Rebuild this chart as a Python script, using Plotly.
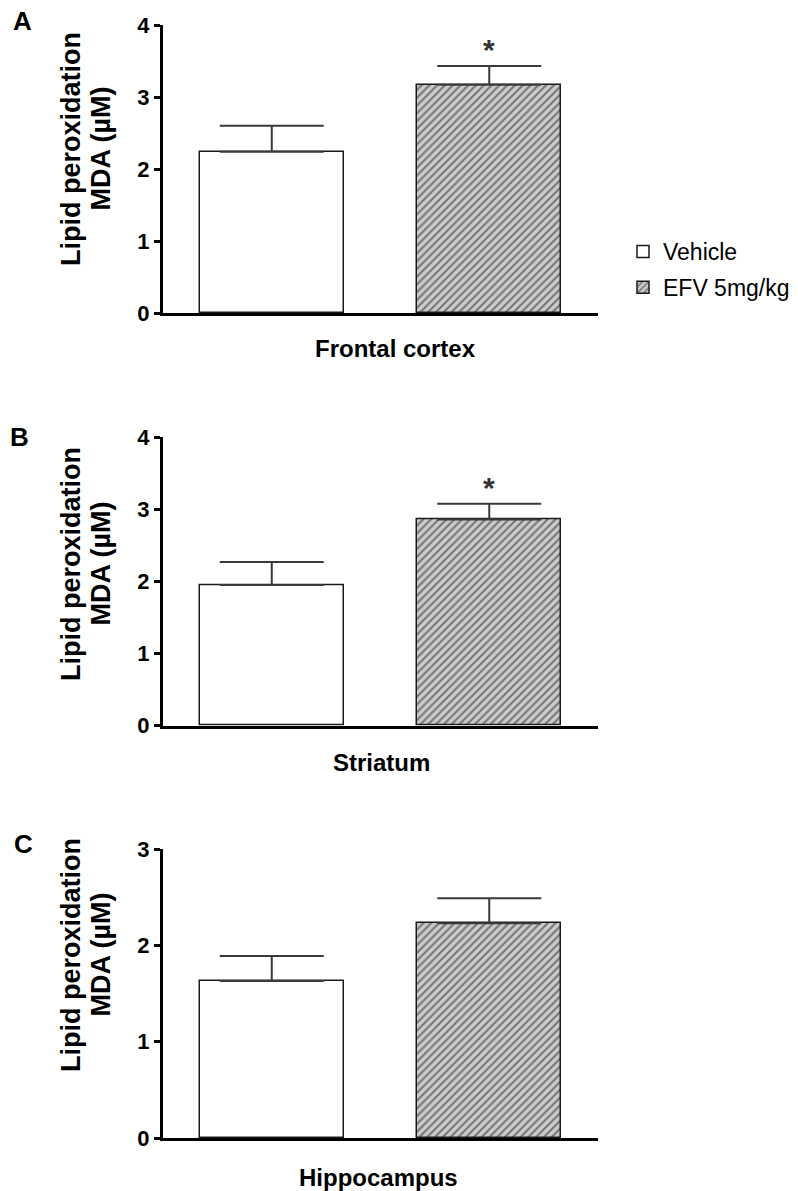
import plotly.graph_objects as go

# ---------------- data ----------------
regions = ["Frontal cortex", "Striatum", "Hippocampus"]
panel_letters = ["A", "B", "C"]
groups = ["Vehicle", "EFV 5mg/kg"]
vehicle_mean = [2.24, 1.95, 1.63]
vehicle_sem = [0.36, 0.32, 0.26]
efv_mean = [3.17, 2.86, 2.23]
efv_sem = [0.26, 0.22, 0.26]
y_max = [4, 4, 3]
y_ticks = [[0, 1, 2, 3, 4], [0, 1, 2, 3, 4], [0, 1, 2, 3]]
significant = [True, True, False]
y_title_lines = ["Lipid peroxidation", "MDA (µM)"]

# ---------------- layout helpers (pixel -> paper) ----------------
W, H = 798, 1191
def px(x):
    return x / W
def py(y):
    return 1 - y / H

x_dom = [px(163), px(598)]
y_doms = [[py(313), py(25)], [py(725.7), py(437.3)], [py(1138), py(849)]]
xtitle_pos = [(395, 348), (381, 762), (378, 1177)]
letter_pos = [(22, 21), (19, 437), (23, 844)]
ytitle_y = [149, 564, 955]
ytitle_x = [71, 100.5]

FONT = "Arial, Liberation Sans, sans-serif"

fig = go.Figure()
annotations = []

for i in range(3):
    xa = "x" if i == 0 else f"x{i+1}"
    ya = "y" if i == 0 else f"y{i+1}"
    fig.add_trace(go.Bar(
        x=[groups[0]], y=[vehicle_mean[i]], width=0.661,
        name=groups[0], legendgroup="g0", showlegend=(i == 0),
        marker=dict(color="white", line=dict(color="#1a1a1a", width=1.5)),
        error_y=dict(type="data", symmetric=False, array=[vehicle_sem[i]], arrayminus=[0],
                     color="#3a3a3a", thickness=2, width=52),
        xaxis=xa, yaxis=ya,
    ))
    fig.add_trace(go.Bar(
        x=[groups[1]], y=[efv_mean[i]], width=0.661,
        name=groups[1], legendgroup="g1", showlegend=(i == 0),
        marker=dict(color="#cccccc", line=dict(color="#1a1a1a", width=1.5),
                    pattern=dict(shape="/", size=5.5, solidity=0.38, fgcolor="#1e1e1e",
                                 bgcolor="#cccccc", fillmode="overlay")),
        error_y=dict(type="data", symmetric=False, array=[efv_sem[i]], arrayminus=[0],
                     color="#3a3a3a", thickness=2, width=52),
        xaxis=xa, yaxis=ya,
    ))

    xkey = "xaxis" if i == 0 else f"xaxis{i+1}"
    ykey = "yaxis" if i == 0 else f"yaxis{i+1}"
    fig.layout[xkey] = dict(
        domain=x_dom, anchor=ya, type="category", categoryorder="array",
        categoryarray=groups, range=[-0.5, 1.5], showticklabels=False, ticks="",
        showline=True, linecolor="black", linewidth=3, showgrid=False, zeroline=False,
        fixedrange=True, automargin=False,
    )
    fig.layout[ykey] = dict(
        domain=y_doms[i], anchor=xa, range=[0, y_max[i]], tickvals=y_ticks[i],
        ticks="outside", ticklen=6, tickwidth=2.5, tickcolor="black",
        tickfont=dict(family=FONT, size=22, color="black", weight="bold"),
        showline=True, linecolor="black", linewidth=3, showgrid=False, zeroline=False,
        fixedrange=True, automargin=False,
    )

    # region label
    annotations.append(dict(
        x=px(xtitle_pos[i][0]), y=py(xtitle_pos[i][1]), xref="paper", yref="paper",
        text=regions[i], showarrow=False, xanchor="center", yanchor="middle",
        font=dict(family=FONT, size=24, color="black", weight="bold"),
    ))
    # panel letter
    annotations.append(dict(
        x=px(letter_pos[i][0]), y=py(letter_pos[i][1]), xref="paper", yref="paper",
        text=panel_letters[i], showarrow=False, xanchor="center", yanchor="middle",
        font=dict(family=FONT, size=26, color="black", weight="bold"),
    ))
    # y title lines
    for k, line in enumerate(y_title_lines):
        annotations.append(dict(
            x=px(ytitle_x[k]), y=py(ytitle_y[i]), xref="paper", yref="paper",
            text=line, textangle=-90, showarrow=False, xanchor="center", yanchor="middle",
            font=dict(family=FONT, size=27, color="black", weight="bold"),
        ))
    # significance star
    if significant[i]:
        annotations.append(dict(
            x=groups[1], y=efv_mean[i] + efv_sem[i], xref=xa, yref=ya,
            text="*", showarrow=False, xanchor="center", yanchor="bottom", yshift=-2,
            font=dict(family=FONT, size=30, color="#333333", weight="bold"),
        ))

fig.update_layout(
    width=W, height=H, margin=dict(l=0, r=0, t=0, b=0, autoexpand=False),
    paper_bgcolor="white", plot_bgcolor="white",
    barmode="overlay", bargap=0,
    annotations=annotations,
    legend=dict(x=px(623), y=py(230), xanchor="left", yanchor="top",
                font=dict(family=FONT, size=23, color="black"),
                bgcolor="rgba(0,0,0,0)", tracegroupgap=3, itemwidth=30),
    showlegend=True,
)

fig.write_html("out.html")
